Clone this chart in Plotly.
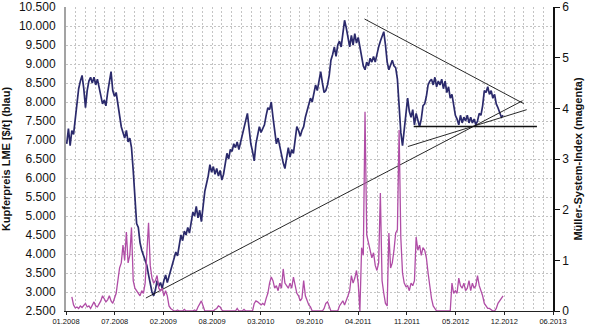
import pandas as pd
import plotly.graph_objects as go

# Weekly LME copper price [$/t], starting 2008-01-04
copper_2008 = [6900, 7300, 6850, 7250, 7150, 7550, 7950, 8350, 8550, 8700, 8350, 7850, 8300,
               8550, 8650, 8500, 8650, 8450, 8600, 8350, 8150, 7950, 8050, 7900, 8250, 8550,
               8800, 8300, 8150, 8250, 7900, 7600, 7350, 7200, 7050, 7250, 6950, 7050, 6800,
               6200, 5400, 4800, 4700, 4300, 4100, 3950, 3850, 3700, 3450, 3250, 3000, 2900]
copper_2009 = [3050, 3300, 3150, 3250, 3100, 3300, 3450, 3250, 3400, 3550, 3750, 3900, 4050,
               3950, 4300, 4500, 4350, 4600, 4500, 4700, 4550, 4900, 5100, 5000, 5250, 4950,
               5150, 4850, 5300, 5650, 5850, 6050, 6350, 6150, 6300, 6100, 6250, 6050, 6200,
               5950, 6100, 6400, 6650, 6500, 6750, 6700, 6900, 6800, 6950, 6750, 6950, 7100]
copper_2010 = [7350, 7550, 7700, 7300, 6900, 6700, 6450, 6900, 7100, 7350, 7200, 7300, 7400,
               7650, 7850, 7800, 8000, 7600, 7200, 6900, 7050, 6800, 6600, 6400, 6250, 6500,
               6800, 6550, 6750, 6650, 7000, 7350, 7250, 7100, 7250, 7350, 7600, 7750, 7900,
               8100, 8000, 8200, 8450, 8300, 8600, 8800, 8500, 8250, 8300, 8450, 8700, 9100]
copper_2011 = [9250, 9450, 9200, 9500, 9600, 9450, 9800, 10150, 9950, 9700, 9450, 9750, 9500,
               9800, 9550, 9700, 9450, 9200, 8950, 8850, 9050, 8950, 9150, 9050, 9200, 9050,
               9300, 9450, 9600, 9750, 9850, 9500, 9050, 8850, 9000, 9100, 8950, 8900, 8600,
               7700, 7200, 6850, 7300, 7700, 8100, 7750, 7600, 7800, 7400, 7700, 7500, 7350]
copper_2012 = [7550, 7900, 7950, 8150, 8450, 8550, 8600, 8450, 8650, 8400, 8550, 8450, 8600,
               8350, 8550, 8250, 8400, 8100, 8200, 7950, 7650, 7550, 7400, 7650, 7450, 7600,
               7500, 7650, 7450, 7600, 7450, 7550, 7400, 7500, 7700, 7650, 7900, 8300, 8250,
               8400, 8200, 8300, 8100, 8200, 7950, 7850, 7700, 7600, 7650]
copper = copper_2008 + copper_2009 + copper_2010 + copper_2011 + copper_2012

# Weekly Müller-System-Index, same weekly calendar (first weeks without value)
msi_2008 = [None, None, None, 0.28, 0.12, 0.06, 0.08, 0.05, 0.10, 0.07, 0.12, 0.15, 0.08,
            0.10, 0.05, 0.12, 0.18, 0.10, 0.08, 0.14, 0.20, 0.30, 0.25, 0.18, 0.22, 0.30,
            0.20, 0.15, 0.25, 0.35, 0.60, 0.85, 0.95, 1.30, 1.00, 1.56, 0.95, 1.10, 1.65,
            0.60, 0.45, 0.40, 0.35, 0.30, 0.40, 0.35, 0.55, 1.05, 1.74, 0.90, 0.65, 0.55]
msi_2009 = [0.60, 0.70, 0.45, 0.40, 0.45, 0.30, 0.40, 0.30, 0.10, 0.05, 0.02, 0.0, 0.0,
            0.02, 0.0, 0.0, 0.0, 0.03, 0.0, 0.0, 0.0, 0.0, 0.0, 0.02, 0.0, 0.08,
            0.15, 0.20, 0.10, 0.0, 0.0, 0.0, 0.0, 0.0, 0.0, 0.03, 0.05, 0.10, 0.08,
            0.02, 0.0, 0.0, 0.0, 0.0, 0.0, 0.0, 0.0, 0.0, 0.05, 0.0, 0.0, 0.0]
msi_2010 = [0.03, 0.0, 0.0, 0.0, 0.0, 0.0, 0.15, 0.20, 0.18, 0.15, 0.12, 0.15, 0.12,
            0.25, 0.35, 0.55, 0.67, 0.60, 0.45, 0.50, 0.40, 0.55, 0.45, 0.83, 0.55, 0.50,
            0.45, 0.55, 0.45, 0.67, 0.50, 0.35, 0.30, 0.20, 0.25, 0.60, 0.30, 0.20, 0.12,
            0.08, 0.0, 0.0, 0.0, 0.0, 0.0, 0.0, 0.0, 0.05, 0.15, 0.18, 0.10, 0.0]
msi_2011 = [0.0, 0.0, 0.0, 0.0, 0.10, 0.15, 0.20, 0.12, 0.20, 0.30, 0.40, 0.70, 0.55,
            0.65, 0.80, 0.55, 0.0, 1.25, 1.10, 3.93, 1.50, 1.35, 1.20, 1.05, 1.15, 0.90,
            0.80, 0.95, 2.33, 0.60, 0.35, 0.15, 0.10, 1.54, 0.85, 0.95, 1.20, 1.54, 1.60,
            3.57, 1.45, 0.75, 0.55, 0.48, 0.50, 0.40, 0.55, 0.50, 0.60, 1.46, 1.20, 1.30]
msi_2012 = [1.10, 1.25, 1.20, 1.05, 0.75, 0.45, 0.25, 0.10, 0.05, 0.0, 0.0, 0.0, 0.0,
            0.0, 0.0, 0.0, 0.0, 0.0, 0.55, 0.35, 0.40, 0.35, 0.65, 0.50, 0.45, 0.55,
            0.40, 0.45, 0.60, 0.40, 0.55, 0.45, 0.50, 0.70, 0.50, 0.40, 0.30, 0.15, 0.10,
            0.05, 0.05, 0.02, 0.0, 0.0, 0.05, 0.15, 0.20, 0.25, 0.30]
msi = msi_2008 + msi_2009 + msi_2010 + msi_2011 + msi_2012

# Hand-drawn trend lines (date, price)
trend_long_dates = ["2008-11-24", "2013-02-18"]
trend_long_values = [2841, 8034]
trend_upper_dates = ["2011-05-11", "2013-02-23"]
trend_upper_values = [10185, 7956]
trend_mid_dates = ["2011-11-05", "2013-03-07"]
trend_mid_values = [6828, 7798]
support_dates = ["2011-11-29", "2013-04-18"]
support_values = [7352, 7352]

copper_dates = pd.date_range("2008-01-04", periods=len(copper), freq="7D")
msi_dates = pd.date_range("2008-01-04", periods=len(msi), freq="7D")

BLUE = "#2b2a6c"
MAGENTA = "#b04da6"
GRID = "#c4c4c4"
FONT = "Arial, Liberation Sans, sans-serif"
DAY = 86400000

fig = go.Figure()
fig.add_trace(go.Scatter(x=msi_dates, y=msi, yaxis="y2", mode="lines",
                         line=dict(color=MAGENTA, width=1.3), connectgaps=False))
fig.add_trace(go.Scatter(x=copper_dates, y=copper, mode="lines",
                         line=dict(color=BLUE, width=1.7)))
for d, v, w in [(trend_long_dates, trend_long_values, 0.9),
                (trend_upper_dates, trend_upper_values, 0.9),
                (trend_mid_dates, trend_mid_values, 0.9),
                (support_dates, support_values, 1.5)]:
    fig.add_trace(go.Scatter(x=d, y=v, mode="lines", line=dict(color="#111111", width=w)))

fig.update_layout(
    width=591, height=326,
    margin=dict(l=66, r=38, t=7, b=15, pad=0),
    paper_bgcolor="white", plot_bgcolor="white",
    showlegend=False,
    separators=",.",
    font=dict(family=FONT, color="#111111"),
    xaxis=dict(
        type="date", range=["2008-01-01", "2013-06-23"],
        tick0="2008-01-01", dtick=200 * DAY, tickformat="%m.%Y",
        tickfont=dict(size=7.5),
        showgrid=True, gridcolor=GRID, griddash="2px,2px", gridwidth=1,
        minor=dict(tick0="2008-01-01", dtick=40 * DAY, showgrid=True,
                   gridcolor=GRID, griddash="2px,2px", gridwidth=1),
        showline=True, linecolor="#222222", linewidth=1,
        ticks="outside", ticklen=3, tickcolor="#222222",
        zeroline=False, automargin=False,
    ),
    yaxis=dict(
        range=[2500, 10500], dtick=500, tickformat=",d",
        tickfont=dict(size=12),
        showgrid=True, gridcolor=GRID, griddash="2px,2px", gridwidth=1,
        showline=True, linecolor="#a3a3a3", linewidth=2,
        ticks="", ticklabelstandoff=6, zeroline=False, automargin=False,
        title=dict(text="Kupferpreis LME [$/t] (blau)",
                   font=dict(size=11, weight="bold"), standoff=7),
    ),
    yaxis2=dict(
        overlaying="y", side="right", range=[0, 6], dtick=1,
        tickfont=dict(size=12),
        showgrid=False, showline=True, linecolor="#111111", linewidth=1.5,
        ticks="outside", ticklen=5, tickcolor="#111111",
        zeroline=False, automargin=False,
        title=dict(text="Müller-System-Index (magenta)",
                   font=dict(size=11, weight="bold"), standoff=6),
    ),
)

fig.write_html("out.html")
